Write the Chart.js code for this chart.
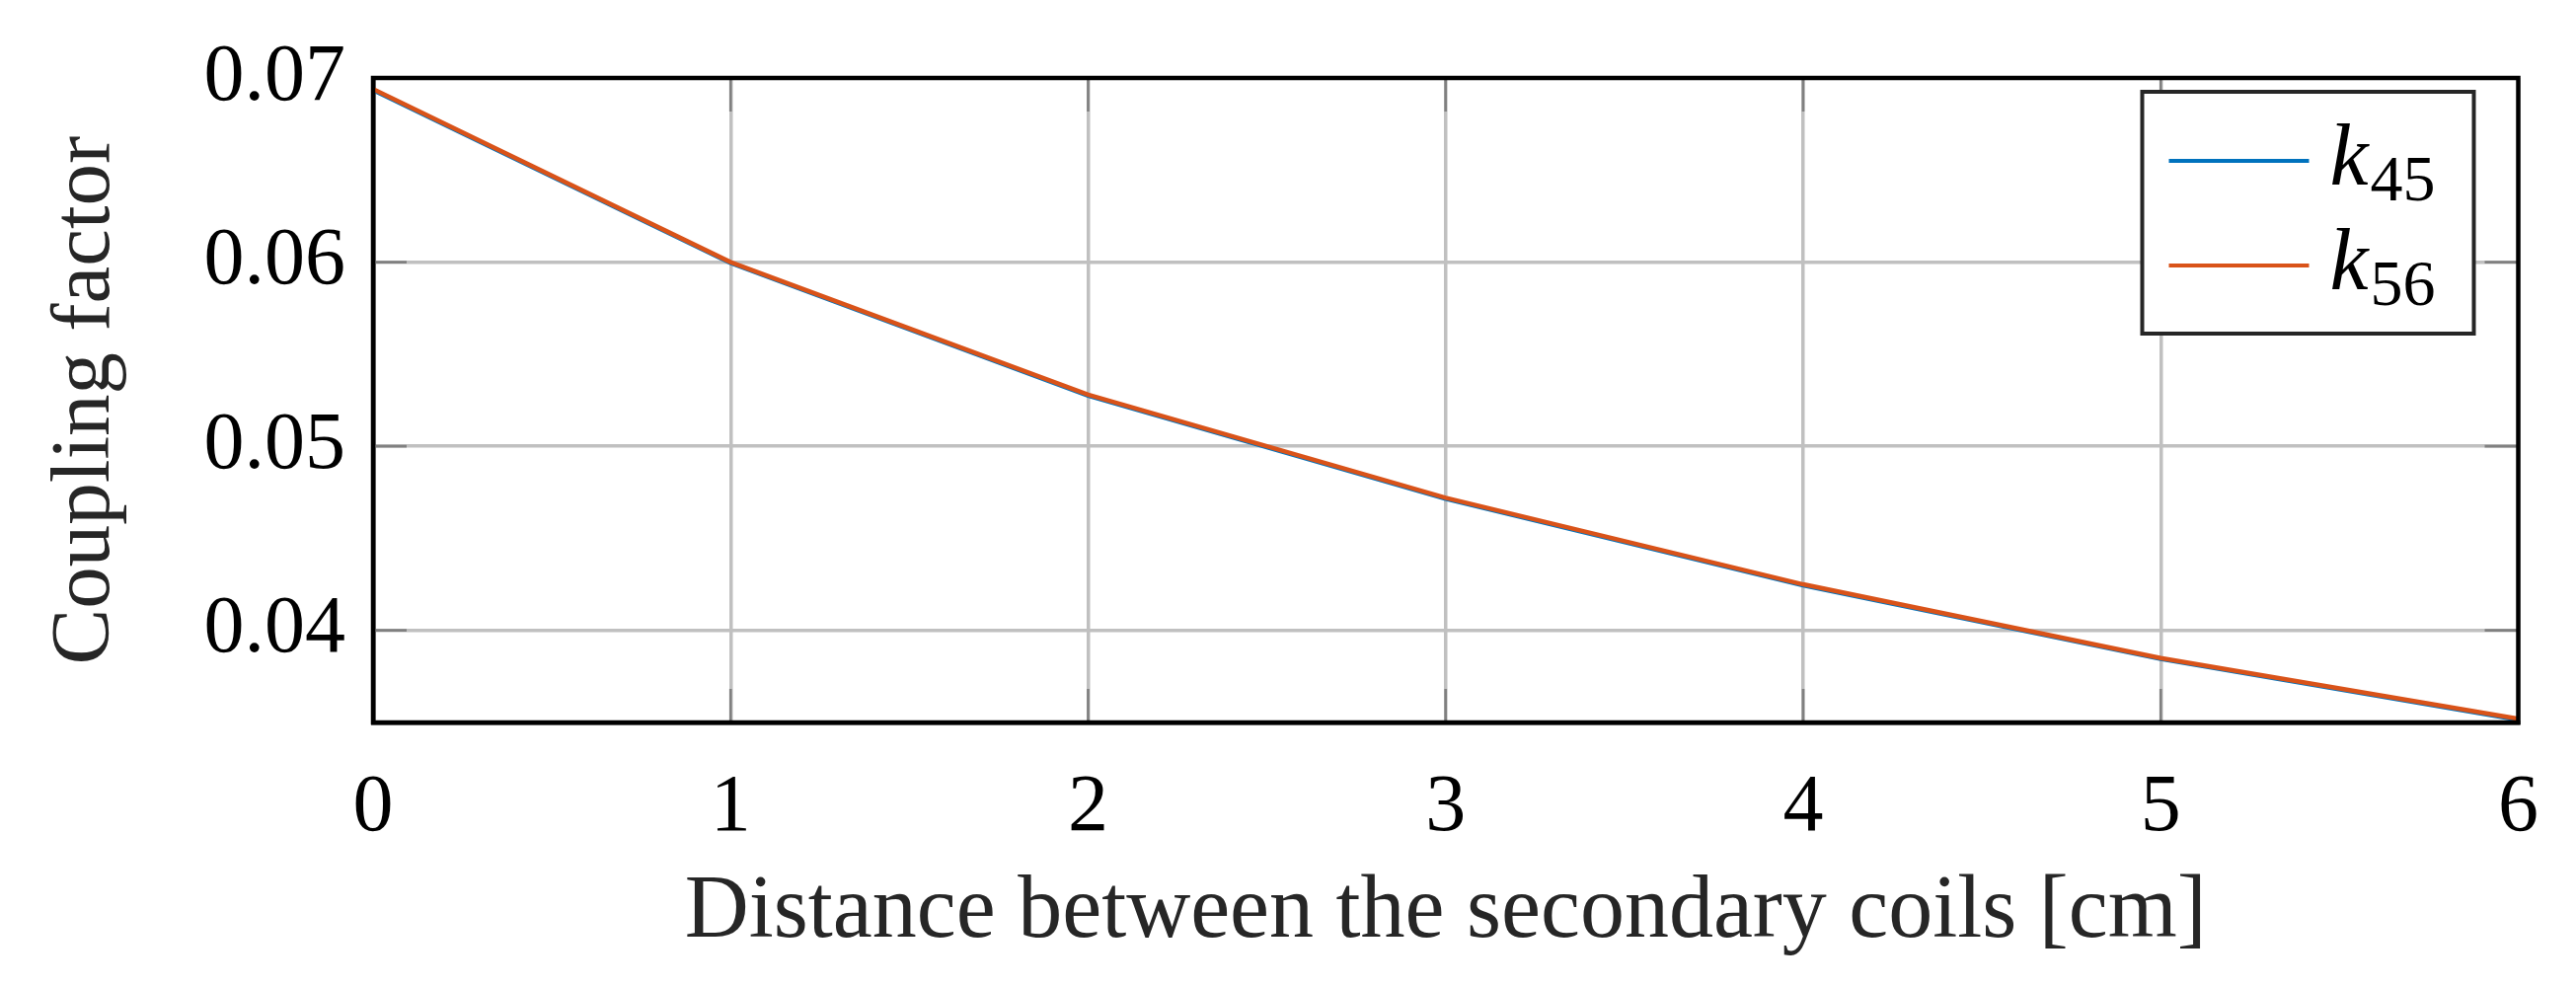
<!DOCTYPE html>
<html>
<head>
<meta charset="utf-8">
<script src="https://cdn.jsdelivr.net/npm/chart.js@4.4.1/dist/chart.umd.min.js"></script>
<style>
  html, body { margin: 0; padding: 0; background: #fff; }
  canvas { display: block; }
</style>
</head>
<body>
<canvas id="coupling-chart" width="2610" height="999"></canvas>
<script>
// Data
const distances = [0, 1, 2, 3, 4, 5, 6];
const k45 = [0.06935, 0.05995, 0.05275, 0.04715, 0.04245, 0.03845, 0.03515];
const k56 = [0.0694, 0.0600, 0.0528, 0.0472, 0.0425, 0.0385, 0.0352];
const seriesNames = ['k45', 'k56'];
const seriesSubs = ['45', '56'];
const xTicks = [0, 1, 2, 3, 4, 5, 6];
const yTicks = [0.04, 0.05, 0.06, 0.07];

const FONT = '"Liberation Serif", "DejaVu Serif", serif';
const BLUE = '#0072bd';
const ORANGE = '#d95319';

function toPoints(values) {
    return distances.map((d, i) => ({ x: d, y: values[i] }));
}

// Inner tick marks on all four sides, pgfplots style
const innerTicks = {
    id: 'innerTicks',
    beforeDatasetsDraw(chart) {
        const { ctx, chartArea, scales } = chart;
        const len = 34;
        ctx.save();
        ctx.strokeStyle = '#808080';
        ctx.lineWidth = 2.7;
        ctx.beginPath();
        xTicks.forEach(v => {
            const px = scales.x.getPixelForValue(v);
            ctx.moveTo(px, chartArea.bottom);
            ctx.lineTo(px, chartArea.bottom - len);
            ctx.moveTo(px, chartArea.top);
            ctx.lineTo(px, chartArea.top + len);
        });
        yTicks.forEach(v => {
            const py = scales.y.getPixelForValue(v);
            ctx.moveTo(chartArea.left, py);
            ctx.lineTo(chartArea.left + len, py);
            ctx.moveTo(chartArea.right, py);
            ctx.lineTo(chartArea.right - len, py);
        });
        ctx.stroke();
        ctx.restore();
    }
};

// Frame on top/right plus the boxed legend with subscripts
const frameAndLegend = {
    id: 'frameAndLegend',
    afterDatasetsDraw(chart) {
        const { ctx, chartArea } = chart;
        ctx.save();
        ctx.strokeStyle = '#000';
        ctx.lineWidth = 4.5;
        ctx.strokeRect(chartArea.left, chartArea.top, chartArea.right - chartArea.left, chartArea.bottom - chartArea.top);

        // legend box
        const boxRight = chartArea.right - 45;
        const boxTop = chartArea.top + 14;
        const boxW = 336, boxH = 245;
        const boxLeft = boxRight - boxW;
        ctx.fillStyle = '#fff';
        ctx.fillRect(boxLeft, boxTop, boxW, boxH);
        ctx.strokeStyle = '#262626';
        ctx.lineWidth = 4;
        ctx.strokeRect(boxLeft, boxTop, boxW, boxH);

        chart.data.datasets.forEach((ds, i) => {
            const rowY = boxTop + 70 + i * 106;
            ctx.strokeStyle = ds.borderColor;
            ctx.lineWidth = 4;
            ctx.beginPath();
            ctx.moveTo(boxLeft + 27, rowY);
            ctx.lineTo(boxLeft + 169, rowY);
            ctx.stroke();

            ctx.fillStyle = '#000';
            ctx.textAlign = 'left';
            ctx.textBaseline = 'alphabetic';
            ctx.font = 'italic 88px ' + FONT;
            const base = ds.label.replace(seriesSubs[i], '');
            ctx.fillText(base, boxLeft + 190, rowY + 24);
            const kw = ctx.measureText(base).width;
            ctx.font = '66px ' + FONT;
            ctx.fillText(seriesSubs[i], boxLeft + 190 + kw + 2, rowY + 40);
        });
        ctx.restore();
    }
};

const ctx = document.getElementById('coupling-chart').getContext('2d');

new Chart(ctx, {
    type: 'line',
    data: {
        datasets: [
            {
                label: seriesNames[0],
                data: toPoints(k45),
                borderColor: BLUE,
                borderWidth: 4.5,
                pointRadius: 0,
                tension: 0,
                fill: false,
                order: 1
            },
            {
                label: seriesNames[1],
                data: toPoints(k56),
                borderColor: ORANGE,
                borderWidth: 4.5,
                pointRadius: 0,
                tension: 0,
                fill: false,
                order: 0
            }
        ]
    },
    options: {
        responsive: false,
        animation: false,
        devicePixelRatio: 1,
        layout: {
            padding: { left: 0, top: 79, right: 55, bottom: 0 }
        },
        scales: {
            x: {
                type: 'linear',
                min: 0,
                max: 6,
                afterBuildTicks(scale) {
                    scale.ticks = xTicks.map(v => ({ value: v }));
                },
                afterFit(scale) {
                    scale.height = 267;
                },
                ticks: {
                    color: '#000',
                    padding: 38,
                    maxRotation: 0,
                    font: { family: FONT, size: 82 },
                    callback: v => String(v)
                },
                grid: {
                    color: '#c0c0c0',
                    lineWidth: 3.5,
                    drawTicks: false
                },
                border: { color: '#000', width: 4.5 },
                title: {
                    display: true,
                    text: 'Distance between the secondary coils [cm]',
                    color: '#262626',
                    font: { family: FONT, size: 90 },
                    padding: { top: 0, bottom: 20 }
                }
            },
            y: {
                type: 'linear',
                min: 0.035,
                max: 0.07,
                afterBuildTicks(scale) {
                    scale.ticks = yTicks.map(v => ({ value: v }));
                },
                afterFit(scale) {
                    scale.width = 378;
                },
                ticks: {
                    color: '#000',
                    padding: 28,
                    font: { family: FONT, size: 82 },
                    callback: v => v.toFixed(2)
                },
                grid: {
                    color: '#c0c0c0',
                    lineWidth: 3.5,
                    drawTicks: false
                },
                border: { color: '#000', width: 4.5 },
                title: {
                    display: true,
                    text: 'Coupling factor',
                    color: '#262626',
                    font: { family: FONT, size: 85 },
                    padding: { top: 37, bottom: 0 }
                }
            }
        },
        plugins: {
            legend: { display: false },
            tooltip: { enabled: false }
        }
    },
    plugins: [innerTicks, frameAndLegend]
});
</script>
</body>
</html>
